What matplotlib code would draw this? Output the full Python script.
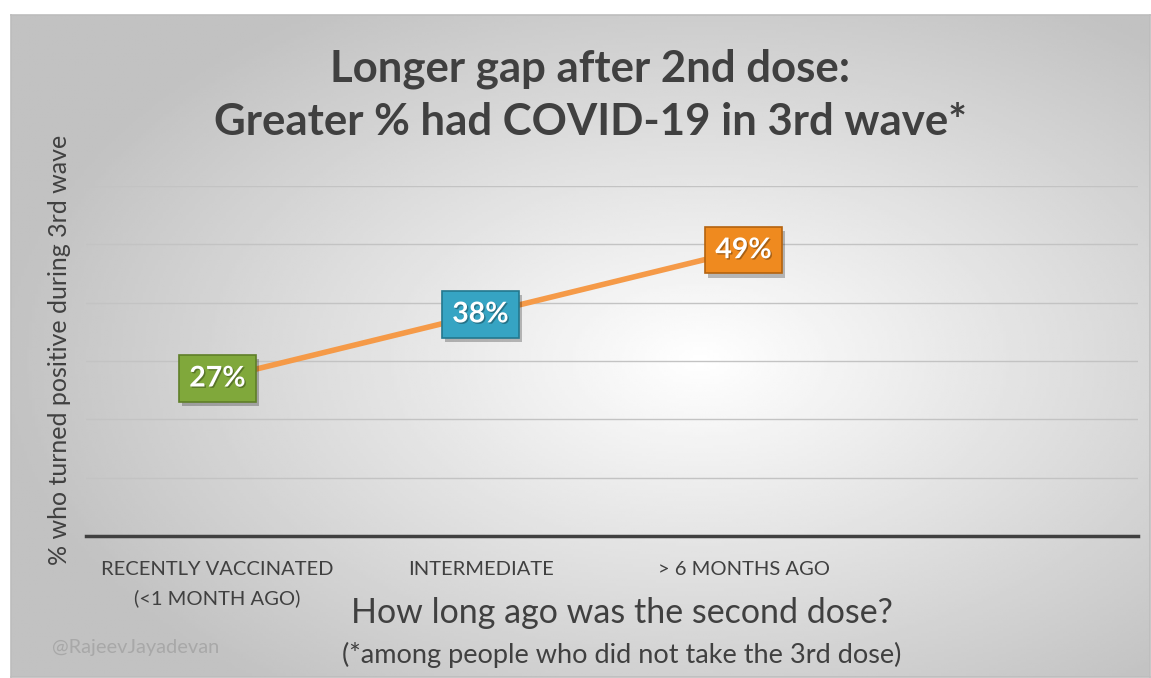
import matplotlib.pyplot as plt
import matplotlib.patheffects as pe
import numpy as np

plt.rcParams['font.family'] = ['Lato', 'DejaVu Sans']

# data
categories = ['RECENTLY VACCINATED\n(<1 MONTH AGO)', 'INTERMEDIATE', '> 6 MONTHS AGO', '']
values = [27, 38, 49]
box_colors = ['#80a83b', '#36a4c3', '#ef8a1f']
box_edges = ['#5f7f28', '#23788f', '#b4630f']

W, H = 1151, 678
fig = plt.figure(figsize=(W / 100, H / 100), dpi=100)
fig.patch.set_facecolor('white')

# background panel with a radial gradient
x0, y0, x1, y1 = 11, 15, 1150, 677
bg = fig.add_axes([x0 / W, 1 - y1 / H, (x1 - x0) / W, (y1 - y0) / H], zorder=-1)
gx, gy = np.meshgrid(np.linspace(x0, x1, 400), np.linspace(y0, y1, 250))
d = np.sqrt(((gx - 700) / 700) ** 2 + ((gy - 360) / 420) ** 2)
shade = np.clip(1 - 0.24 * d, 0.76, 1)
bg.imshow(shade, cmap='gray', vmin=0, vmax=1, extent=[0, 1, 0, 1], aspect='auto')
bg.set_xticks([])
bg.set_yticks([])
for s in bg.spines.values():
    s.set_color('#bdbdbd')
    s.set_linewidth(1.2)

# main axes
left, right, top, bottom = 86, 1138, 186, 536
ax = fig.add_axes([left / W, 1 - bottom / H, (right - left) / W, (bottom - top) / H])
ax.set_facecolor('none')
ax.set_xlim(-0.5, 3.5)
ax.set_ylim(0, 60)
ax.set_yticks(range(0, 61, 10))
ax.set_yticklabels([])
ax.yaxis.grid(True, color='#c3c3c3', linewidth=1)
ax.set_axisbelow(True)
for s in ['top', 'right', 'left']:
    ax.spines[s].set_visible(False)
ax.spines['bottom'].set_color('#404040')
ax.spines['bottom'].set_linewidth(2.5)
ax.tick_params(axis='y', length=0)
ax.tick_params(axis='x', length=0, pad=18, labelsize=14.5, labelcolor='#404040')
ax.set_xticks(range(len(categories)))
ax.set_xticklabels(categories, linespacing=1.75)

xs = list(range(len(values)))
ax.plot(xs, values, color='#f59a48', linewidth=4, solid_capstyle='butt', zorder=2)
for x, v, fc, ec in zip(xs, values, box_colors, box_edges):
    t = ax.text(x, v, f'{v}%', ha='center', va='center', color='white',
                fontsize=20.5, fontweight='bold', zorder=3,
                bbox=dict(boxstyle='square,pad=0.36', facecolor=fc, edgecolor=ec, linewidth=1.2))
    t.get_bbox_patch().set_path_effects([
        pe.SimplePatchShadow(offset=(2, -3), shadow_rgbFace='black', alpha=0.25), pe.Normal()])
    t.set_path_effects([pe.withSimplePatchShadow(offset=(1, -1), shadow_rgbFace='black', alpha=0.3)])

ax.set_ylabel('% who turned positive during 3rd wave', fontsize=18, color='#404040')
ax.yaxis.set_label_coords((71 - left) / (right - left), (bottom - 350) / (bottom - top))

fig.text(590 / W, 1 - 95 / H, 'Longer gap after 2nd dose:\nGreater % had COVID-19 in 3rd wave*',
         ha='center', va='center', fontsize=31.5, fontweight='bold', color='#404040', linespacing=1.38)
fig.text(622 / W, 1 - 613 / H, 'How long ago was the second dose?', ha='center', va='center',
         fontsize=24.5, color='#404040')
fig.text(622 / W, 1 - 655 / H, '(*among people who did not take the 3rd dose)', ha='center', va='center',
         fontsize=19.5, color='#404040')
fig.text(52 / W, 1 - 648 / H, '@RajeevJayadevan', ha='left', va='center',
         fontsize=14.4, color='#a8a8a8')

fig.savefig('out.png', dpi=100)
